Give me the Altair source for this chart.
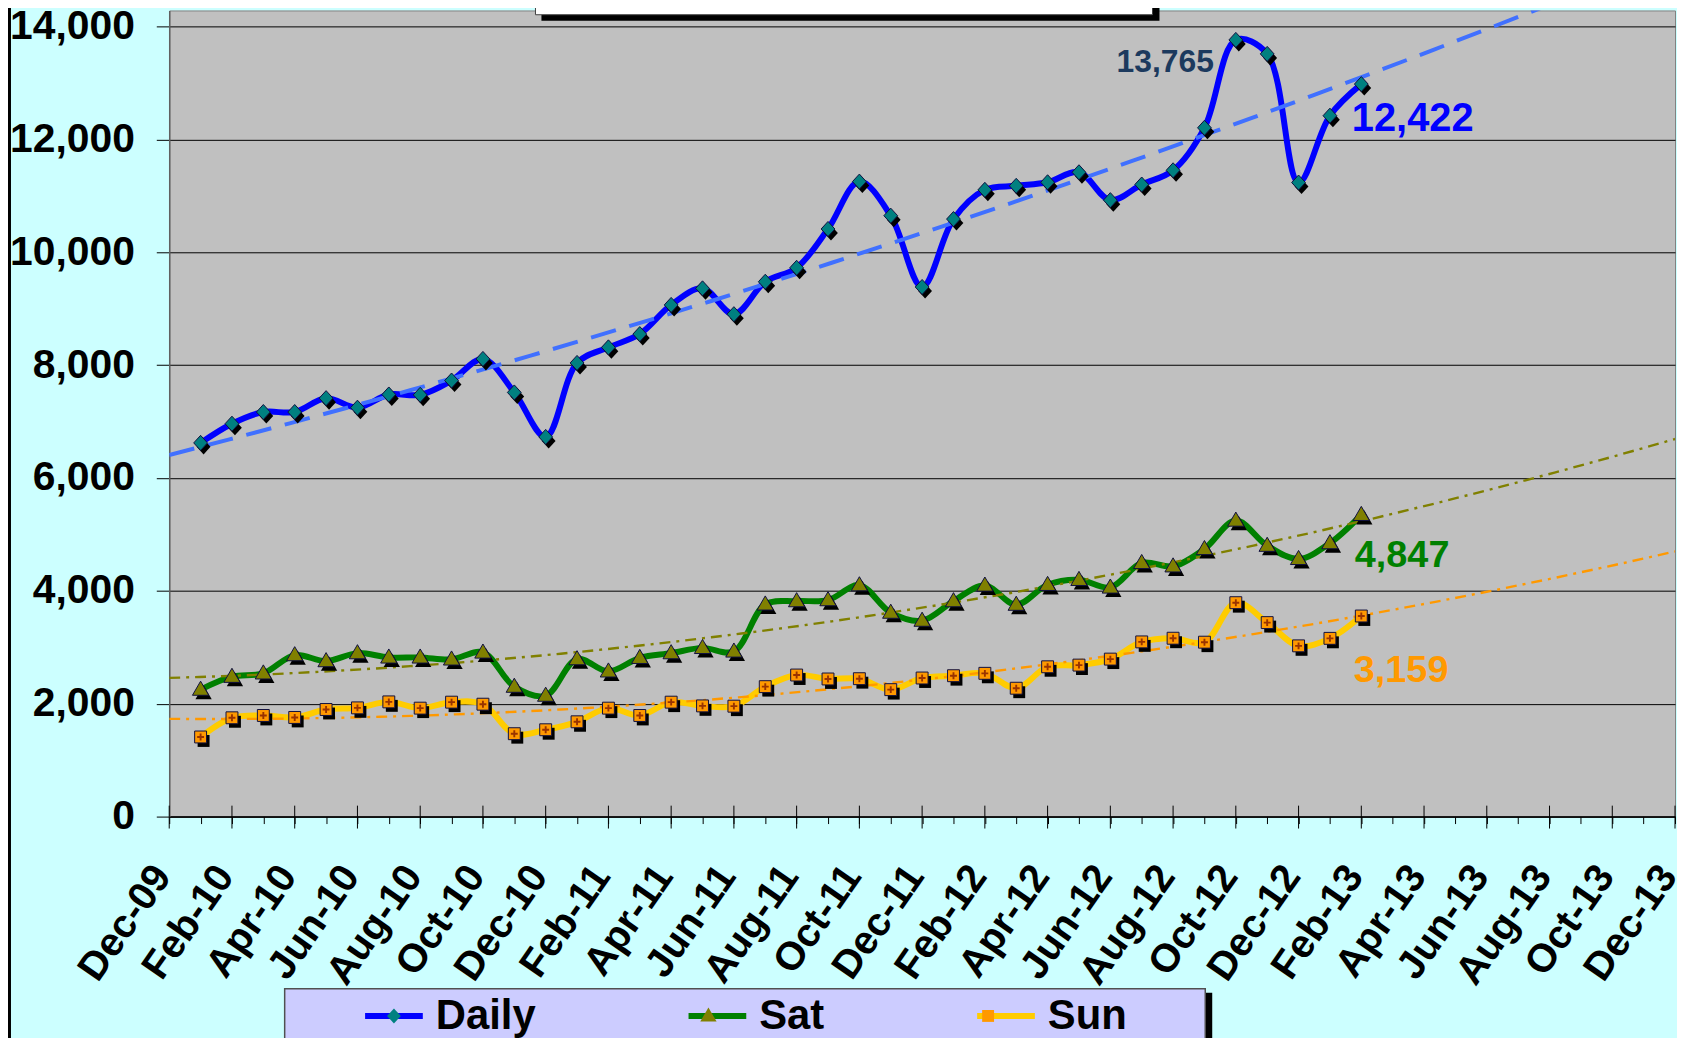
import json
import altair as alt
import pandas as pd

# ---------------- data ----------------
months = ["Jan-10", "Feb-10", "Mar-10", "Apr-10", "May-10", "Jun-10", "Jul-10", "Aug-10",
          "Sep-10", "Oct-10", "Nov-10", "Dec-10",
          "Jan-11", "Feb-11", "Mar-11", "Apr-11", "May-11", "Jun-11", "Jul-11", "Aug-11",
          "Sep-11", "Oct-11", "Nov-11", "Dec-11",
          "Jan-12", "Feb-12", "Mar-12", "Apr-12", "May-12", "Jun-12", "Jul-12", "Aug-12",
          "Sep-12", "Oct-12", "Nov-12", "Dec-12",
          "Jan-13", "Feb-13"]

x_tick_labels = ["Dec-09", "Feb-10", "Apr-10", "Jun-10", "Aug-10", "Oct-10", "Dec-10",
                 "Feb-11", "Apr-11", "Jun-11", "Aug-11", "Oct-11", "Dec-11",
                 "Feb-12", "Apr-12", "Jun-12", "Aug-12", "Oct-12", "Dec-12",
                 "Feb-13", "Apr-13", "Jun-13", "Aug-13", "Oct-13", "Dec-13"]

series_names = ["Daily", "Sat", "Sun"]

daily = [6623, 6963, 7170, 7170, 7416, 7247, 7481, 7475, 7728, 8111, 7517, 6729,
         8040, 8316, 8551, 9068, 9362, 8904, 9479, 9726, 10414, 11254, 10650, 9386,
         10590, 11108, 11179, 11242, 11419, 10925, 11202, 11454, 12207, 13765, 13517, 11237,
         12422, 12982]
sat = [2250, 2479, 2539, 2862, 2756, 2897, 2821, 2821, 2786, 2909, 2303, 2144,
       2791, 2574, 2814, 2897, 2990, 2927, 3761, 3819, 3837, 4101, 3615, 3473,
       3819, 4096, 3756, 4108, 4196, 4061, 4496, 4436, 4743, 5247, 4801, 4567,
       4847, 5348]
sun = [1411, 1751, 1792, 1757, 1898, 1927, 2033, 1922, 2028, 1992, 1469, 1539,
       1680, 1922, 1792, 2028, 1962, 1957, 2303, 2509, 2439, 2444, 2250, 2456,
       2497, 2539, 2275, 2655, 2685, 2791, 3096, 3161, 3091, 3791, 3438, 3026,
       3159, 3555]

y_ticks = [0, 2000, 4000, 6000, 8000, 10000, 12000, 14000]

# (series, month of the labelled point)
annotations = [("Daily", "Oct-12"), ("Daily", "Jan-13"), ("Sat", "Jan-13"), ("Sun", "Jan-13")]

rows = []
for name, vals in zip(series_names, [daily, sat, sun]):
    for i, (m, v) in enumerate(zip(months, vals)):
        rows.append({"t": i + 1, "month": m, "series": name, "sym": name, "v": v})
df = pd.DataFrame(rows)

# ---------------- styling ----------------
FONT = "Liberation Sans"
PW, PH = 1513, 810
x_max = 2 * (len(x_tick_labels) - 1)
x_scale = alt.Scale(domain=[0, x_max], nice=False, zero=False)
y_scale = alt.Scale(domain=[0, 14287], nice=False)

line_colors = ["#0000FF", "#008000", "#FFCC00"]
marker_fill = ["#008080", "#808000", "#FF9900"]
marker_paths = ["M0,-0.24L0.22,0L0,0.24L-0.22,0Z",
                "M0,-0.27L0.26,0.18L-0.26,0.18Z",
                "M-0.19,-0.19H0.19V0.19H-0.19Z"]
cross_path = "M-0.11,-0.03H0.11V0.03H-0.11Z M-0.03,-0.11H0.03V0.11H-0.03Z"
MSIZE = 3969

x_axis = alt.Axis(
    values=list(range(0, x_max + 1)),
    labelExpr="datum.value % 2 == 0 ? " + json.dumps(x_tick_labels) + "[datum.value / 2] : ''",
    labelAngle=305, labelAlign="right", labelBaseline="middle",
    labelFont=FONT, labelFontSize=40, labelFontWeight="bold", labelColor="black",
    labelPadding=46, labelOffset=-7, labelOverlap=False, labelFlush=False, labelBound=False,
    tickSize=7, tickColor="black", tickWidth=1,
    domainColor="black", domainWidth=1.5, grid=False, title=None)

y_axis = alt.Axis(
    values=y_ticks, format=",.0f",
    labelFont=FONT, labelFontSize=41, labelFontWeight="bold", labelColor="black",
    labelPadding=22, tickSize=13, tickColor="black", tickWidth=1,
    domainColor="#606060", domainWidth=1.5,
    grid=True, gridColor="black", gridWidth=1, title=None)


def X():
    return alt.X("t:Q", scale=x_scale, axis=x_axis)


def Y():
    return alt.Y("v:Q", scale=y_scale, axis=y_axis)


LEG_X, LEG_Y = 193.8, 978.3
common_leg = dict(orient="none", legendX=LEG_X, legendY=LEG_Y, direction="horizontal",
                  title=None, labelFont=FONT, labelFontSize=42, labelFontWeight="bold",
                  labelColor="black", labelOffset=10, columnPadding=141, padding=0,
                  labelLimit=500)
line_legend = alt.Legend(symbolType="stroke", symbolSize=3364, symbolStrokeWidth=6, **common_leg)
point_legend = alt.Legend(symbolSize=MSIZE, symbolStrokeWidth=1, symbolStrokeColor="#101040",
                          labelOpacity=0, **common_leg)

one = pd.DataFrame({"k": [0]})


def deco_rect(x, x2, y, y2, fill, stroke=None, sw=0):
    kw = dict(fill=fill)
    if stroke:
        kw.update(stroke=stroke, strokeWidth=sw)
    return alt.Chart(one).mark_rect(**kw).encode(
        x=alt.value(x), x2=alt.value(x2), y=alt.value(y), y2=alt.value(y2))


deco = [
    deco_rect(374, 995, -20, 10.3, "black"),
    deco_rect(368, 988, -20, 4.3, "white", "#404040", 1),
    deco_rect(120, 1048, 987, 1060, "black"),
    deco_rect(116, 1041, 983, 1060, "#CCCCFF", "#505050", 1.5),
    alt.Chart(one).mark_rule(color="black", strokeWidth=3).encode(
        x=alt.value(-160.5), y=alt.value(-10), y2=alt.value(1060)),
]

lines = alt.Chart(df).mark_line(
    interpolate="catmull-rom", strokeWidth=6, strokeCap="round", strokeJoin="round"
).encode(
    x=X(), y=Y(),
    stroke=alt.Stroke("series:N", scale=alt.Scale(domain=series_names, range=line_colors),
                      legend=line_legend),
)

trend_styles = [("Daily", "#4070FF", [26, 14], 4),
                ("Sat", "#808000", [11, 6, 3, 6], 2.4),
                ("Sun", "#FF9900", [11, 6, 3, 6], 2.4)]
trends = []
for name, col, dash, w in trend_styles:
    trends.append(
        alt.Chart(df).transform_filter(alt.datum.series == name)
        .transform_regression("t", "v", method="poly", order=2, extent=[0, x_max])
        .mark_line(color=col, strokeDash=dash, strokeWidth=w, clip=True)
        .encode(x=X(), y=Y())
    )

major_ticks = pd.DataFrame({"t": [2 * i for i in range(len(x_tick_labels))]})
ticks = alt.Chart(major_ticks).mark_rule(color="black", strokeWidth=1).encode(
    x=X(), y=alt.value(PH - 11), y2=alt.value(PH + 12))

shadows = []
for name, path in zip(series_names, marker_paths):
    shadows.append(
        alt.Chart(df).transform_filter(alt.datum.series == name).mark_point(
            filled=True, fill="black", opacity=1, size=MSIZE, shape=path, xOffset=3, yOffset=4
        ).encode(x=X(), y=Y())
    )

points = alt.Chart(df).mark_point(
    filled=True, opacity=1, size=MSIZE, stroke="#101040", strokeWidth=1
).encode(
    x=X(), y=Y(),
    fill=alt.Fill("sym:N", scale=alt.Scale(range=marker_fill), legend=point_legend),
    shape=alt.Shape("sym:N", scale=alt.Scale(range=marker_paths), legend=point_legend),
)

crosses = alt.Chart(df).transform_filter(alt.datum.series == "Sun").mark_point(
    filled=True, fill="#993300", opacity=1, size=MSIZE, shape=cross_path
).encode(x=X(), y=Y())

ann_styles = [("#1C3A5E", 32, "right", -22, 32),
              ("#0000FF", 40, "left", 22, 15),
              ("#008000", 38, "left", 25, 24),
              ("#FF9900", 38, "left", 24, 44)]
ann_layers = []
for (name, m), (col, fs, al, dx, dy) in zip(annotations, ann_styles):
    ann_layers.append(
        alt.Chart(df).transform_filter((alt.datum.series == name) & (alt.datum.month == m))
        .mark_text(color=col, font=FONT, fontSize=fs, fontWeight="bold", align=al,
                   baseline="alphabetic", dx=dx, dy=dy)
        .encode(x=X(), y=Y(), text=alt.Text("v:Q", format=","))
    )

chart = alt.layer(
    *deco, lines, *trends, ticks, *shadows, points, crosses, *ann_layers
).properties(
    width=PW, height=PH,
    padding={"left": 162, "top": 0, "right": 2, "bottom": 220},
    autosize=alt.AutoSizeParams(type="none"),
    background="#CCFFFF",
).configure_view(fill="#C0C0C0", stroke="#808080", strokeWidth=1)

chart.save("out.html", embed_options={"renderer": "svg", "actions": False})
